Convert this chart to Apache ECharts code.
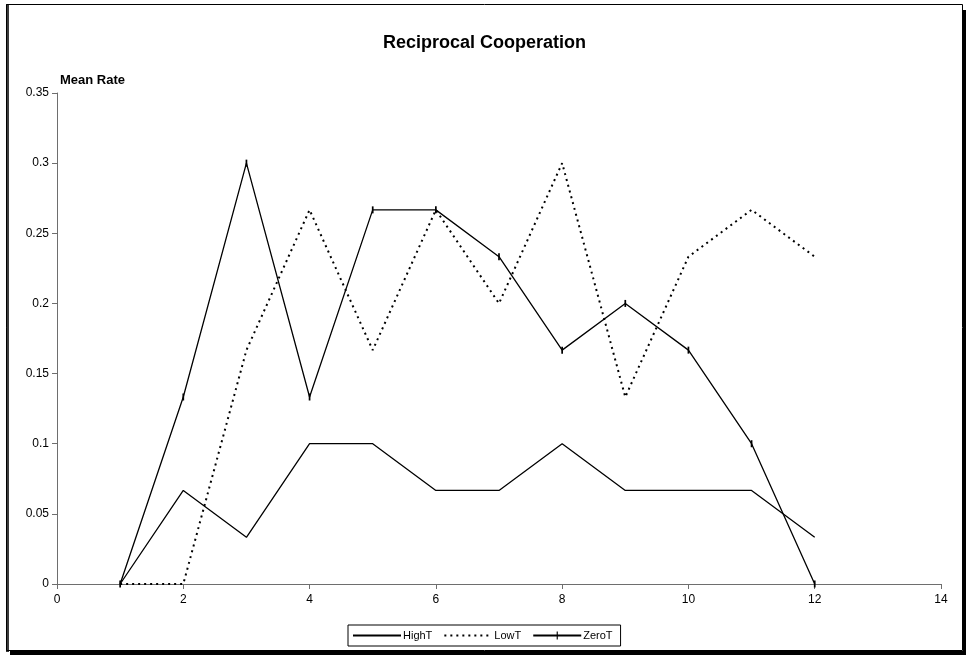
<!DOCTYPE html>
<html>
<head>
<meta charset="utf-8">
<script src="https://cdn.jsdelivr.net/npm/echarts@6/dist/echarts.min.js"></script>
<style>
  html, body { margin: 0; padding: 0; background: #fff; }
  #chart { width: 969px; height: 658px; }
</style>
</head>
<body>
<div id="chart"></div>
<script>
// Period numbers along the horizontal axis
const periods = [1, 2, 3, 4, 5, 6, 7, 8, 9, 10, 11, 12];

// Mean reciprocal cooperation rate per treatment
const highT = [0, 0.0667, 0.0333, 0.1, 0.1, 0.0667, 0.0667, 0.1, 0.0667, 0.0667, 0.0667, 0.0333];
const lowT  = [0, 0, 0.1667, 0.2667, 0.1667, 0.2667, 0.2, 0.3, 0.1333, 0.2333, 0.2667, 0.2333];
const zeroT = [0, 0.1333, 0.3, 0.1333, 0.2667, 0.2667, 0.2333, 0.1667, 0.2, 0.1667, 0.1, 0];

const seriesNames = ['HighT', 'LowT', 'ZeroT'];

const pairs = vals => periods.map((p, i) => [p, vals[i]]);

const FONT = '"Liberation Sans", Arial, sans-serif';
const chart = echarts.init(document.getElementById('chart'), null, { renderer: 'canvas' });

// thin vertical bar marker; the leading move-tos widen its box so it stays slim when drawn square
const tickBar = 'path://M-3,0 M4,6 M0,0 L1,0 L1,6 L0,6 Z';

chart.setOption({
  animation: false,
  backgroundColor: '#fff',
  textStyle: { fontFamily: FONT },
  title: {
    text: 'Reciprocal Cooperation',
    left: 'center',
    top: 29,
    textStyle: { fontFamily: FONT, fontSize: 18, fontWeight: 'bold', color: '#000' }
  },
  grid: { left: 57, top: 93, width: 884, height: 491, containLabel: false },
  xAxis: {
    type: 'value',
    min: 0, max: 14, interval: 2,
    axisLine: { lineStyle: { color: '#6e6e6e', width: 1 } },
    axisTick: { show: true, inside: false, length: 5, lineStyle: { color: '#6e6e6e' } },
    axisLabel: { color: '#000', fontSize: 12, fontFamily: FONT, margin: 10 },
    splitLine: { show: false }
  },
  yAxis: {
    type: 'value',
    min: 0, max: 0.35, interval: 0.05,
    axisLine: { show: true, lineStyle: { color: '#6e6e6e', width: 1 } },
    axisTick: { show: true, inside: false, length: 5, lineStyle: { color: '#6e6e6e' } },
    axisLabel: { color: '#000', fontSize: 12, fontFamily: FONT, margin: 8 },
    splitLine: { show: false }
  },
  legend: {
    left: 348, top: 625,
    itemWidth: 48, itemHeight: 10, itemGap: 11,
    padding: [5, 8, 5, 4],
    borderColor: '#000', borderWidth: 1,
    textStyle: { fontFamily: FONT, fontSize: 11, color: '#000', padding: [0, 0, 0, -3] },
    data: [
      { name: seriesNames[0], itemStyle: { opacity: 0 } },
      { name: seriesNames[1], itemStyle: { opacity: 0 } },
      { name: seriesNames[2] }
    ]
  },
  series: [
    {
      name: seriesNames[0], type: 'line', data: pairs(highT),
      symbol: 'none', color: '#000',
      lineStyle: { color: '#000', width: 1.3, type: 'solid' }
    },
    {
      name: seriesNames[1], type: 'line', data: pairs(lowT),
      symbol: 'none', color: '#000',
      lineStyle: { color: '#000', width: 2, type: [2, 4] }
    },
    {
      name: seriesNames[2], type: 'line', data: pairs(zeroT),
      symbol: tickBar, symbolSize: [12, 7], color: '#000',
      itemStyle: { color: '#000' },
      lineStyle: { color: '#000', width: 1.3, type: 'solid' }
    }
  ],
  graphic: [
    {
      type: 'text', left: 60, top: 74,
      style: { text: 'Mean Rate', font: 'bold 13px ' + FONT, fill: '#000' }
    },
    // frame with shadow on the right and bottom edges
    { type: 'rect', shape: { x: 963, y: 10, width: 3, height: 645 }, style: { fill: '#000' } },
    { type: 'rect', shape: { x: 10, y: 651, width: 956, height: 4 }, style: { fill: '#000' } },
    { type: 'rect', shape: { x: 6, y: 4, width: 3, height: 648 }, style: { fill: '#3a3a3a' } },
    { type: 'rect', shape: { x: 6.5, y: 4.5, width: 956, height: 646 }, style: { fill: 'none', stroke: '#000', lineWidth: 1 } }
  ]
});
</script>
</body>
</html>
